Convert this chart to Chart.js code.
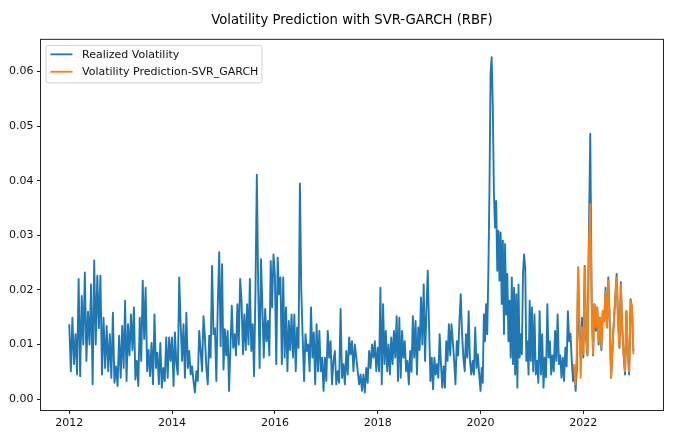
<!DOCTYPE html>
<html>
<head>
<meta charset="utf-8">
<title>Volatility Prediction with SVR-GARCH (RBF)</title>
<script src="https://cdn.jsdelivr.net/npm/chart.js@4.4.1/dist/chart.umd.min.js"></script>
<style>
  html, body { margin: 0; padding: 0; background: #fff; }
  #chart { display: block; }
</style>
</head>
<body>
<canvas id="chart" width="680" height="446"></canvas>
<script>
// ==================== DATA ====================

const chartTitle = 'Volatility Prediction with SVR-GARCH (RBF)';
const seriesNames = ['Realized Volatility', 'Volatility Prediction-SVR_GARCH'];

// axis ticks
const xTickYears = [2012, 2014, 2016, 2018, 2020, 2022];
const yTickValues = [0.00, 0.01, 0.02, 0.03, 0.04, 0.05, 0.06];

// realized volatility, samples spread evenly through each calendar year
const vol2012 = [0.0137,0.0051,0.0149,0.0064,0.0119,0.0045,0.0220,0.0042,0.0189,0.0100,0.0232,0.0070,0.0160,0.0100,0.0210,0.0027,0.0254,0.0100,0.0226,0.0130,0.0226,0.0045,0.0149,0.0057,0.0134,0.0051,0.0119,0.0039,0.0158,0.0030,0.0060,0.0024,0.0116];
const vol2013 = [0.0039,0.0134,0.0057,0.0180,0.0033,0.0137,0.0080,0.0155,0.0090,0.0168,0.0036,0.0070,0.0024,0.0149,0.0070,0.0217,0.0110,0.0204,0.0051,0.0090,0.0042,0.0103,0.0027,0.0155,0.0057,0.0085,0.0027,0.0103,0.0021,0.0057,0.0033,0.0113,0.0039,0.0113,0.0070];
const vol2014 = [0.0113,0.0024,0.0122,0.0064,0.0045,0.0223,0.0137,0.0070,0.0137,0.0039,0.0158,0.0057,0.0088,0.0045,0.0060,0.0033,0.0012,0.0051,0.0033,0.0125,0.0088,0.0051,0.0152,0.0113,0.0057,0.0027,0.0116,0.0076,0.0244,0.0119,0.0130,0.0033,0.0174,0.0269,0.0097,0.0247];
const vol2015 = [0.0054,0.0128,0.0080,0.0125,0.0015,0.0094,0.0171,0.0094,0.0119,0.0080,0.0174,0.0100,0.0220,0.0180,0.0082,0.0155,0.0090,0.0174,0.0100,0.0220,0.0088,0.0137,0.0042,0.0195,0.0411,0.0204,0.0057,0.0256,0.0168,0.0076,0.0165,0.0106,0.0143,0.0080,0.0253,0.0168,0.0265];
const vol2016 = [0.0226,0.0064,0.0259,0.0192,0.0223,0.0064,0.0223,0.0076,0.0168,0.0051,0.0143,0.0090,0.0155,0.0076,0.0155,0.0051,0.0131,0.0094,0.0395,0.0198,0.0113,0.0033,0.0119,0.0088,0.0100,0.0051,0.0168,0.0076,0.0122,0.0027,0.0137,0.0051,0.0125,0.0051,0.0076,0.0015,0.0076];
const vol2017 = [0.0033,0.0125,0.0076,0.0106,0.0027,0.0070,0.0088,0.0027,0.0051,0.0030,0.0165,0.0039,0.0064,0.0027,0.0088,0.0045,0.0113,0.0082,0.0106,0.0051,0.0100,0.0076,0.0051,0.0027,0.0045,0.0015,0.0045,0.0012,0.0057,0.0030,0.0088,0.0057,0.0100,0.0076,0.0106,0.0051];
const vol2018 = [0.0094,0.0051,0.0204,0.0027,0.0174,0.0064,0.0125,0.0051,0.0100,0.0045,0.0113,0.0064,0.0125,0.0076,0.0152,0.0033,0.0149,0.0039,0.0125,0.0076,0.0106,0.0051,0.0070,0.0027,0.0088,0.0050,0.0152,0.0076,0.0143,0.0045,0.0131,0.0090,0.0186,0.0100,0.0210,0.0070,0.0161,0.0235];
const vol2019 = [0.0131,0.0033,0.0076,0.0018,0.0076,0.0045,0.0064,0.0039,0.0119,0.0064,0.0021,0.0060,0.0021,0.0106,0.0070,0.0137,0.0080,0.0137,0.0106,0.0070,0.0027,0.0106,0.0080,0.0143,0.0192,0.0119,0.0076,0.0051,0.0119,0.0076,0.0161,0.0070,0.0045,0.0070,0.0045,0.0131,0.0057,0.0082,0.0045];
const vol2020 = [0.0015,0.0057,0.0030,0.0155,0.0106,0.0174,0.0119,0.0229,0.0382,0.0596,0.0626,0.0535,0.0376,0.0314,0.0363,0.0235,0.0308,0.0217,0.0305,0.0174,0.0290,0.0119,0.0284,0.0155,0.0229,0.0106,0.0180,0.0076,0.0223,0.0064,0.0204,0.0045,0.0192,0.0021,0.0210,0.0076,0.0119,0.0082,0.0229,0.0265,0.0241,0.0070,0.0106,0.0045,0.0180,0.0070];
const vol2021 = [0.0168,0.0051,0.0155,0.0045,0.0070,0.0030,0.0161,0.0045,0.0119,0.0021,0.0076,0.0040,0.0174,0.0076,0.0106,0.0045,0.0080,0.0051,0.0125,0.0070,0.0155,0.0064,0.0080,0.0039,0.0076,0.0033,0.0094,0.0060,0.0161,0.0106,0.0120,0.0070,0.0033,0.0060,0.0015,0.0057,0.0241,0.0119,0.0076,0.0149];
const vol2022 = [0.0076,0.0244,0.0110,0.0080,0.0300,0.0486,0.0180,0.0080,0.0174,0.0125,0.0168,0.0100,0.0149,0.0090,0.0161,0.0143,0.0204,0.0131,0.0223,0.0140,0.0039,0.0094,0.0143,0.0186,0.0229,0.0143,0.0094,0.0214,0.0131,0.0082,0.0045,0.0161,0.0082,0.0045,0.0183,0.0168,0.0088];

// SVR-GARCH prediction over the test period (starts late 2021)
const predStart = 2021.82;
const pred2021 = [0.0064,0.0027,0.0082,0.0241,0.0143,0.0039,0.0131];
const pred2022 = [0.0082,0.0241,0.0119,0.0082,0.0278,0.0357,0.0180,0.0082,0.0174,0.0131,0.0168,0.0106,0.0149,0.0094,0.0161,0.0143,0.0198,0.0131,0.0217,0.0140,0.0039,0.0094,0.0143,0.0186,0.0223,0.0143,0.0094,0.0210,0.0131,0.0082,0.0051,0.0161,0.0082,0.0051,0.0180,0.0168,0.0082];

// ==================== BUILD POINTS ====================

/**
 * Place the samples of one stretch evenly between two dates (decimal years).
 */
function spread(from, to, values) {
    return values.map((v, i) => ({ x: from + (to - from) * i / values.length, y: v }));
}

const realizedYears = [
    [2012, vol2012], [2013, vol2013], [2014, vol2014], [2015, vol2015],
    [2016, vol2016], [2017, vol2017], [2018, vol2018], [2019, vol2019],
    [2020, vol2020], [2021, vol2021], [2022, vol2022]
];
const realizedPoints = realizedYears.flatMap(([year, vals]) => spread(year, year + 1, vals));
const predPoints = spread(predStart, 2022, pred2021).concat(spread(2022, 2023, pred2022));

// ==================== CHART ====================

const FONT = '"DejaVu Sans", "Liberation Sans", sans-serif';
const BLUE = '#1f77b4';
const ORANGE = '#ff7f0e';

// matplotlib-like box round the axes
const spinesPlugin = {
    id: 'spines',
    afterDraw(chart) {
        const { ctx, chartArea: a } = chart;
        ctx.save();
        ctx.strokeStyle = '#222';
        ctx.lineWidth = 1;
        ctx.strokeRect(a.left - 0.5, a.top - 0.5, a.right - a.left + 1, a.bottom - a.top + 1);
        ctx.restore();
    }
};

// legend box in the upper left corner, drawn like matplotlib's
const legendPlugin = {
    id: 'mplLegend',
    afterDatasetsDraw(chart) {
        const { ctx, chartArea: a } = chart;
        const colors = chart.data.datasets.map(d => d.borderColor);
        ctx.save();
        ctx.font = '11px ' + FONT;
        const textW = Math.max(...seriesNames.map(s => ctx.measureText(s).width));
        const x0 = a.left + 4.5, y0 = a.top + 5;
        const w = 4.4 + 22 + 8.8 + textW + 4.4;
        const h = 37.5;
        // frame
        ctx.beginPath();
        if (ctx.roundRect) ctx.roundRect(x0 + 0.5, y0 + 0.5, w, h, 2.5);
        else ctx.rect(x0 + 0.5, y0 + 0.5, w, h);
        ctx.fillStyle = 'rgba(255,255,255,0.8)';
        ctx.fill();
        ctx.strokeStyle = '#d0d0d0';
        ctx.lineWidth = 1;
        ctx.stroke();
        // entries
        seriesNames.forEach((name, i) => {
            const cy = y0 + 9.5 + i * 17.4;
            ctx.beginPath();
            ctx.moveTo(x0 + 5, cy);
            ctx.lineTo(x0 + 27, cy);
            ctx.strokeStyle = colors[i];
            ctx.lineWidth = 1.8;
            ctx.stroke();
            ctx.fillStyle = '#111';
            ctx.textBaseline = 'middle';
            ctx.fillText(name, x0 + 36.5, cy + 0.5);
        });
        ctx.restore();
    }
};

new Chart(document.getElementById('chart'), {
    type: 'line',
    data: {
        datasets: [
            {
                label: seriesNames[0],
                data: realizedPoints,
                borderColor: BLUE,
                borderWidth: 1.9,
                borderJoinStyle: 'round',
                pointRadius: 0,
                tension: 0,
                order: 2
            },
            {
                label: seriesNames[1],
                data: predPoints,
                borderColor: ORANGE,
                borderWidth: 1.9,
                borderJoinStyle: 'round',
                pointRadius: 0,
                tension: 0,
                order: 1
            }
        ]
    },
    options: {
        responsive: false,
        animation: false,
        devicePixelRatio: 1,
        layout: { padding: { left: 0, right: 17, top: 0, bottom: 0 } },
        plugins: {
            legend: { display: false },
            tooltip: { enabled: false },
            title: {
                display: true,
                text: chartTitle,
                fullSize: false,
                color: '#000',
                font: { family: FONT, size: 13.2, weight: 'normal' },
                padding: { top: 13, bottom: 11 }
            }
        },
        scales: {
            x: {
                type: 'linear',
                min: 2011.45,
                max: 2023.55,
                afterBuildTicks: s => { s.ticks = xTickYears.map(v => ({ value: v })); },
                afterFit: s => { s.height = 36; },
                border: { display: false },
                grid: { drawOnChartArea: false, drawTicks: true, tickLength: 4, tickColor: '#222', tickWidth: 1 },
                ticks: {
                    autoSkip: false,
                    maxRotation: 0,
                    padding: 3,
                    color: '#111',
                    font: { family: FONT, size: 11 },
                    callback: v => String(v)
                }
            },
            y: {
                type: 'linear',
                min: -0.002,
                max: 0.0658,
                afterBuildTicks: s => { s.ticks = yTickValues.map(v => ({ value: v })); },
                afterFit: s => { s.width = 41; },
                border: { display: false },
                grid: { drawOnChartArea: false, drawTicks: true, tickLength: 4, tickColor: '#222', tickWidth: 1 },
                ticks: {
                    autoSkip: false,
                    padding: 3.5,
                    color: '#111',
                    font: { family: FONT, size: 11 },
                    callback: v => v.toFixed(2)
                }
            }
        }
    },
    plugins: [spinesPlugin, legendPlugin]
});
</script>
</body>
</html>
